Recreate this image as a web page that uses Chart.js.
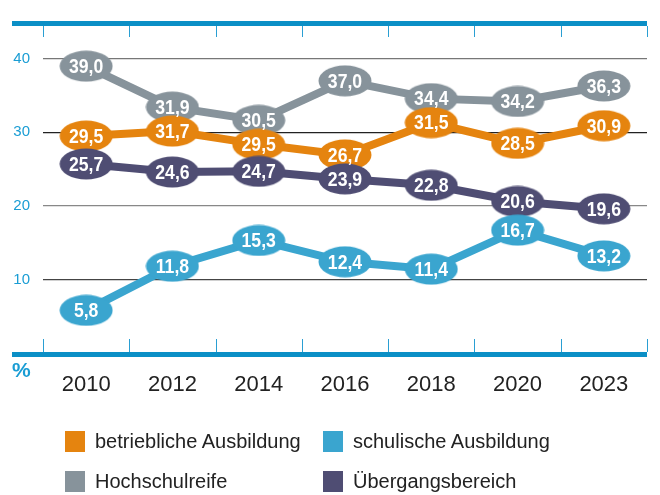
<!DOCTYPE html>
<html>
<head>
<meta charset="utf-8">
<script src="https://cdn.jsdelivr.net/npm/chart.js@4"></script>
<style>
  body { margin: 0; background: #fff; }
  #wrap { position: relative; width: 660px; height: 495px; }
  #legend {
    position: absolute; left: 65px; top: 421px;
    display: grid; grid-template-columns: 258px 258px; grid-auto-rows: 40px;
    font-family: "Liberation Sans", Arial, sans-serif; font-size: 20px; color: #222;
  }
  .item { display: flex; align-items: center; }
  .box { width: 20px; height: 21px; margin-right: 10px; }
</style>
</head>
<body>
<div id="wrap">
  <canvas id="chart" width="660" height="495"></canvas>
  <div id="legend"></div>
</div>
<script>
const years = ['2010', '2012', '2014', '2016', '2018', '2020', '2023'];
const betrieblich = [29.5, 31.7, 29.5, 26.7, 31.5, 28.5, 30.9];
const schulisch = [5.8, 11.8, 15.3, 12.4, 11.4, 16.7, 13.2];
const hochschulreife = [39.0, 31.9, 30.5, 37.0, 34.4, 34.2, 36.3];
const uebergang = [25.7, 24.6, 24.7, 23.9, 22.8, 20.6, 19.6];

const seriesNames = ['betriebliche Ausbildung', 'schulische Ausbildung', 'Hochschulreife', 'Übergangsbereich'];
const seriesColors = ['#e5840f', '#3aa5cf', '#87939b', '#4f4d73'];
const seriesData = [betrieblich, schulisch, hochschulreife, uebergang];
const drawOrder = [3, 1, 4, 2];

const gridColors = { 10: '#444', 20: '#888', 30: '#222', 40: '#777' };
const ruleBlue = '#0b8fc6';

// ellipse marker used as point style
function ellipse(color) {
    const c = document.createElement('canvas');
    c.width = 54;
    c.height = 32;
    const g = c.getContext('2d');
    g.fillStyle = color;
    g.beginPath();
    g.ellipse(27, 16, 26.5, 15.5, 0, 0, Math.PI * 2);
    g.fill();
    return c;
}

// push markers apart at the same year when they would overlap
const declutter = {
    id: 'declutter',
    afterDatasetsUpdate(chart) {
        const minGap = 24;
        for (let i = 0; i < years.length; i++) {
            const pts = chart.data.datasets.map((d, k) => chart.getDatasetMeta(k).data[i]);
            pts.sort((a, b) => a.y - b.y);
            for (let j = 1; j < pts.length; j++) {
                const a = pts[j - 1], b = pts[j];
                if (b.y - a.y < minGap) {
                    const mid = (a.y + b.y) / 2;
                    a.y = mid - minGap / 2;
                    b.y = mid + minGap / 2;
                }
            }
        }
    }
};

const frame = {
    id: 'frame',
    beforeDatasetsDraw(chart) {
        const { ctx, chartArea: a } = chart;
        const step = (a.right - a.left) / years.length;
        ctx.save();
        ctx.fillStyle = ruleBlue;
        ctx.fillRect(12, a.top - 1, a.right - 12, 5);
        ctx.fillRect(12, a.bottom - 1, a.right - 12, 5);
        ctx.strokeStyle = '#2a9fd3';
        ctx.lineWidth = 1;
        for (let i = 0; i <= years.length; i++) {
            const x = Math.round(a.left + i * step) + 0.5;
            ctx.beginPath();
            ctx.moveTo(x, a.top + 4);
            ctx.lineTo(x, a.top + 15);
            ctx.moveTo(x, a.bottom - 14);
            ctx.lineTo(x, a.bottom - 1);
            ctx.stroke();
        }
        ctx.fillStyle = '#1a9dd4';
        ctx.font = 'bold 21px "Liberation Sans", Arial, sans-serif';
        ctx.textBaseline = 'alphabetic';
        ctx.fillText('%', 12, a.bottom + 24);
        ctx.restore();
    }
};

const valueLabels = {
    id: 'valueLabels',
    afterDatasetsDraw(chart) {
        const { ctx } = chart;
        ctx.save();
        ctx.fillStyle = '#fff';
        ctx.font = 'bold 21px "Liberation Sans", Arial, sans-serif';
        ctx.textAlign = 'center';
        ctx.textBaseline = 'middle';
        chart.data.datasets.forEach((ds, k) => {
            chart.getDatasetMeta(k).data.forEach((pt, i) => {
                ctx.save();
                ctx.translate(pt.x, pt.y + 1);
                ctx.scale(0.84, 1);
                ctx.fillText(ds.data[i].toFixed(1).replace('.', ','), 0, 0);
                ctx.restore();
            });
        });
        ctx.restore();
    }
};

const datasets = seriesNames.map((name, k) => ({
    label: name,
    data: seriesData[k],
    borderColor: seriesColors[k],
    backgroundColor: seriesColors[k],
    borderWidth: 8,
    pointStyle: ellipse(seriesColors[k]),
    order: drawOrder[k],
    tension: 0
}));

const config = {
    type: 'line',
    data: { labels: years, datasets: datasets },
    options: {
        responsive: false,
        animation: false,
        layout: { padding: { top: 13, right: 13, bottom: 97, left: 0 } },
        plugins: {
            legend: { display: false },
            tooltip: { enabled: false }
        },
        scales: {
            x: {
                offset: true,
                grid: { display: false },
                border: { display: false },
                ticks: {
                    color: '#222',
                    padding: 11,
                    font: { family: '"Liberation Sans", Arial, sans-serif', size: 22 }
                },
                afterFit: (s) => { s.height = 45; }
            },
            y: {
                min: 0,
                max: 45,
                afterBuildTicks: (axis) => {
                    axis.ticks = axis.ticks.filter(t => gridColors[t.value]);
                },
                grid: {
                    drawTicks: false,
                    color: (c) => gridColors[c.tick.value] || 'transparent',
                    lineWidth: 1.2
                },
                border: { display: false },
                ticks: {
                    stepSize: 10,
                    color: '#1a9dd4',
                    padding: 13,
                    font: { family: '"Liberation Sans", Arial, sans-serif', size: 15 }
                },
                afterFit: (s) => { s.width = 43; }
            }
        }
    },
    plugins: [declutter, frame, valueLabels]
};

const chart = new Chart(document.getElementById('chart'), config);

const legend = document.getElementById('legend');
seriesNames.forEach((name, k) => {
    const item = document.createElement('div');
    item.className = 'item';
    item.innerHTML = '<span class="box" style="background:' + seriesColors[k] + '"></span><span>' + name + '</span>';
    legend.appendChild(item);
});
</script>
</body>
</html>
